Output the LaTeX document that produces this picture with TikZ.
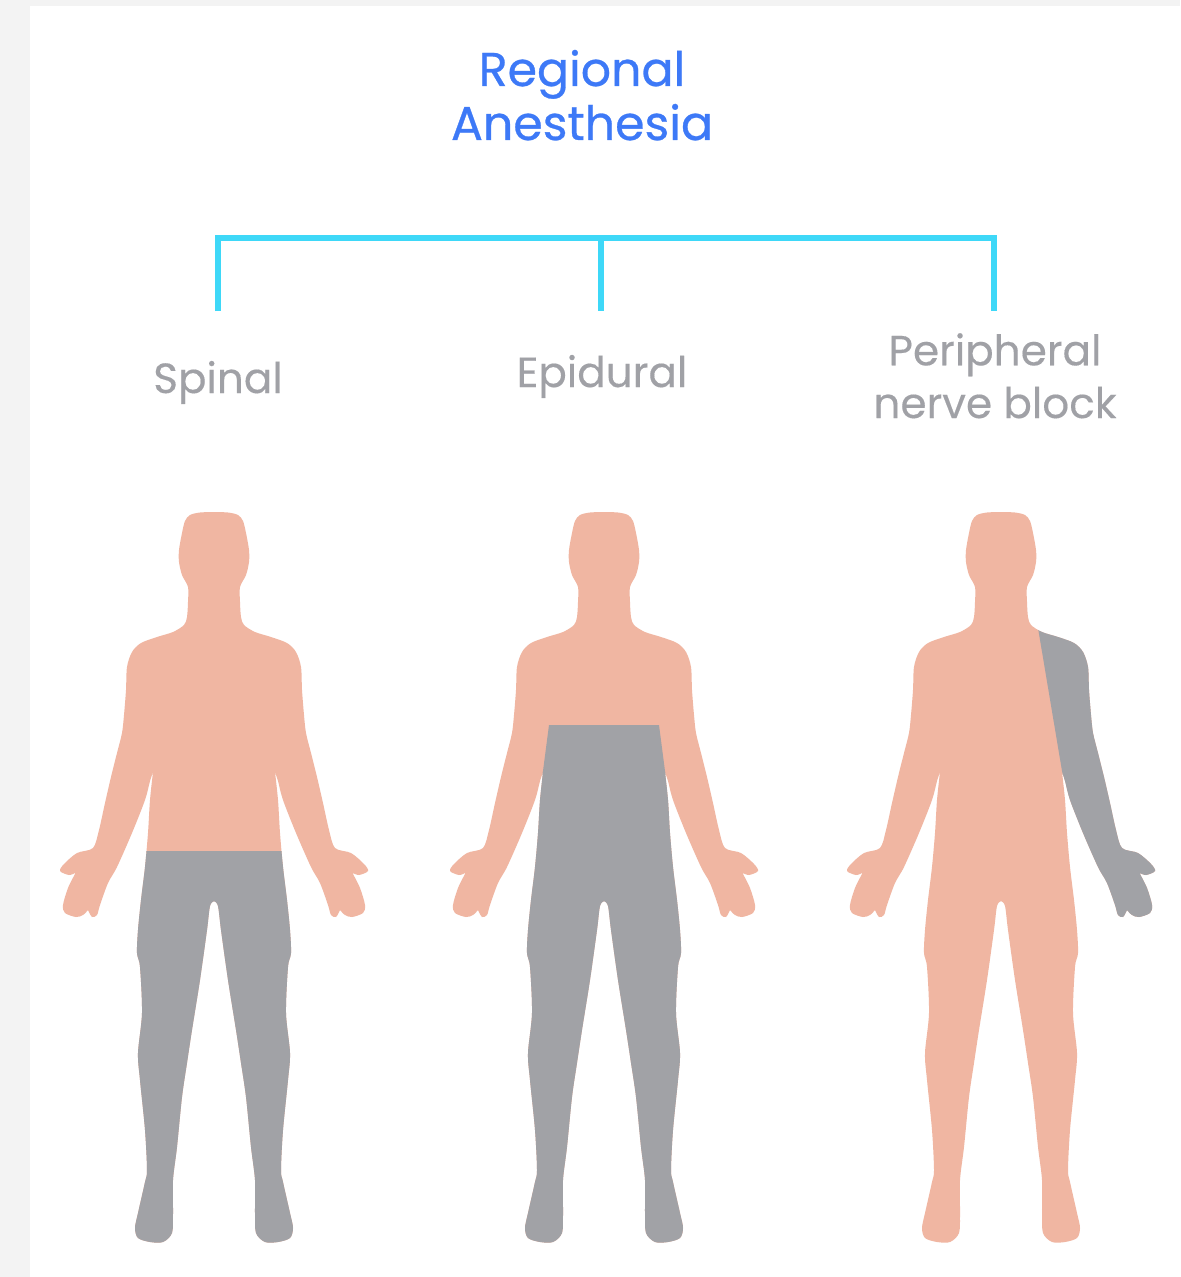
\documentclass[tikz,border=0pt]{standalone}
\usepackage{fontspec}
\setmainfont{Poppins}
\newfontfamily\headfont{Poppins}[FakeBold=0.6]
\newfontfamily\kindfont{Poppins}[FakeBold=0.3]
\usepackage{tikz}
\usetikzlibrary{positioning}
\definecolor{titleblue}{RGB}{61,121,247}
\definecolor{linkcyan}{RGB}{62,216,248}
\definecolor{labelgray}{RGB}{160,161,166}
\definecolor{skin}{RGB}{240,182,162}
\definecolor{numb}{RGB}{161,162,166}
\definecolor{pagegray}{RGB}{243,243,243}
\tikzset{
  headline/.style={text=titleblue, font=\headfont\fontsize{27}{32}\selectfont, inner sep=0pt},
  kind/.style={text=labelgray, font=\kindfont\fontsize{24}{30}\selectfont, inner sep=0pt, align=center},
  bracket/.style={linkcyan, line width=3pt},
}
% left half of a standing figure, centre line at x=0, y in pixels downwards
\newcommand\halfman{
  plot[smooth] coordinates {(1,512) (-14,512.5) (-24,515) (-29,521) (-32,533) (-35,550)
    (-35,562) (-32,575) (-26,587) (-26,602) (-27,617) (-30,625) (-41,632) (-57,637)
    (-73,643) (-82,652) (-87,667) (-88,690) (-90,715) (-92,733) (-97,753) (-103,777)
    (-109,803) (-115,830) (-121,848) (-137,853) (-150,864) (-154,871) (-145,875) (-139,873)}
  -- plot[smooth] coordinates {(-139,874) (-146,888) (-151,905) (-149,913) (-138,917)
    (-131,915) (-126,910)}
  -- plot[smooth] coordinates {(-126,910) (-122,917) (-117,915) (-114,905) (-106,883)
    (-97,867) (-82,833) (-69,800) (-64,781) (-61,772)}
  -- plot[smooth] coordinates {(-61,772) (-64,800) (-66,833) (-69,867) (-73,900)
    (-76,930) (-77,953) (-74,967) (-72,1013) (-76,1053) (-74,1080) (-69,1130) (-67,1170)
    (-69,1182) (-76,1213) (-79,1228) (-76,1238) (-64,1242) (-51,1242) (-42,1233)
    (-41,1213) (-41,1180) (-37,1147) (-32,1097) (-27,1063) (-22,1030) (-14,980)
    (-7,930) (-4,906) (0,901) (1,901)}
  -- cycle}
\newcommand\fillman[1]{\fill[#1] \halfman; \fill[#1, xscale=-1] \halfman;}

\begin{document}
\begin{tikzpicture}[x=0.02cm, y=-0.02cm]
  \useasboundingbox (0,0) rectangle (1180,1277);
  \fill[pagegray] (0,0) rectangle (1180,1277);
  \fill[white] (30,6) rectangle (1180,1277);

  \node[headline, anchor=base] (regional) at (582,86) {Regional};
  \node[headline, anchor=base] (anesthesia) at (582,140) {Anesthesia};

  \node[kind, anchor=base] (spinal) at (218,393) {Spinal};
  \node[kind, anchor=base] (epidural) at (602,387) {Epidural};
  \node[kind, anchor=base] (pnb) at (995,418) {Peripheral\\nerve block};

  \coordinate (hub) at (601,238);
  \coordinate (spinal-drop) at (218,311);
  \coordinate (epidural-drop) at (601,311);
  \coordinate (pnb-drop) at (994,311);
  \draw[bracket] (spinal-drop) |- (hub) -| (pnb-drop);
  \draw[bracket] (hub) -- (epidural-drop);

  \begin{scope}[shift={(214,0)}]
    \fillman{skin}
    \begin{scope}
      \clip (-69,851) -- (69,851) -- (80,880) -- (84,960) -- (85,1300)
        -- (-85,1300) -- (-84,960) -- (-80,880) -- cycle;
      \fillman{numb}
    \end{scope}
  \end{scope}

  \begin{scope}[shift={(604,0)}]
    \fillman{skin}
    \begin{scope}
      \clip (-55,725) -- (-61,771) -- (-66.5,800) -- (-73,840) -- (-80,880) -- (-84,960)
        -- (-85,1300) -- (85,1300) -- (84,960) -- (80,880) -- (73,840) -- (66.5,800)
        -- (61,771) -- (55,725) -- cycle;
      \fillman{numb}
    \end{scope}
  \end{scope}

  \begin{scope}[shift={(1001,0)}]
    \fillman{skin}
    \begin{scope}
      \clip (31,590) -- (37,628) -- (61,771) -- (66.5,800) -- (76,850) -- (90,900)
        -- (200,1000) -- (300,1000) -- (300,590) -- cycle;
      \fillman{numb}
    \end{scope}
  \end{scope}
\end{tikzpicture}
\end{document}
